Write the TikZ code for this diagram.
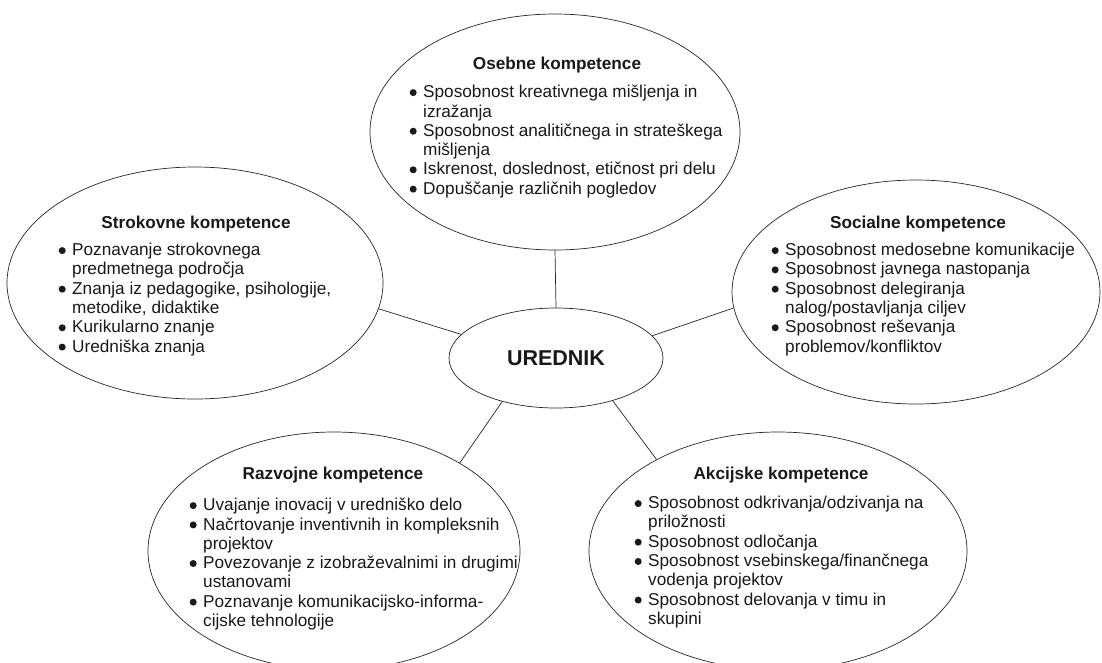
\documentclass[tikz,border=0pt]{standalone}
\usepackage{fontspec}
\setmainfont{Liberation Sans}
\usetikzlibrary{shapes.geometric}
\newcommand\bu{\makebox[13.5pt][l]{\raisebox{1.6pt}{\tikz[x=1cm,y=1cm]\fill[black!90] (0,0) circle (3.5pt);}}}
\newcommand\hg{\hspace*{13.5pt}}
\begin{document}
\begin{tikzpicture}[x=1pt,y=-1pt,
  oval/.style={ellipse, draw=black!85, line width=0.7pt, inner sep=0pt},
  ttl/.style={font=\fontsize{17.2}{19.3}\selectfont\bfseries, anchor=base, inner sep=0pt, text=black!90},
  lst/.style={font=\fontsize{17.2}{19.3}\selectfont, align=left, anchor=north west, inner sep=0pt, text=black!90},
  conn/.style={line width=0.7pt, draw=black!85}]
\useasboundingbox (0,0) rectangle (1102,662);
\clip (0,0) rectangle (1102,662);
\fill[white] (0,0) rectangle (1102,662);
% ellipses
\node[oval, minimum width=370pt, minimum height=236pt] (os) at (555,132) {};
\node[oval, minimum width=376pt, minimum height=232pt] (st) at (195,283) {};
\node[oval, minimum width=368pt, minimum height=224pt] (so) at (916,292) {};
\node[oval, minimum width=372pt, minimum height=238pt] (ra) at (334,551) {};
\node[oval, minimum width=378pt, minimum height=238pt] (ak) at (778,551) {};
\node[oval, minimum width=214pt, minimum height=100pt, font=\fontsize{21.5}{24}\selectfont\bfseries, text=black!90] (ur) at (556,358) {UREDNIK};
% connectors
\draw[conn] (ur.90) -- (os.270);
\draw[conn] (ur.166.5) -- (st.-8);
\draw[conn] (ur.13.3) -- (so.185.4);
\draw[conn] (ur.219.2) -- (ra.35.5);
\draw[conn] (ur.-37.7) -- (ak.143.4);
% titles
\node[ttl] (t1) at (557,69) {Osebne kompetence};
\node[ttl] (t2) at (196,228) {Strokovne kompetence};
\node[ttl] (t3) at (918,228) {Socialne kompetence};
\node[ttl] (t4) at (333,479) {Razvojne kompetence};
\node[ttl] (t5) at (781,479) {Akcijske kompetence};
% lists
\node[lst] (l1) at (409.5,85) {\bu Sposobnost kreativnega mišljenja in\\
\hg izražanja\\
\bu Sposobnost analitičnega in strateškega\\
\hg mišljenja\\
\bu Iskrenost, doslednost, etičnost pri delu\\
\bu Dopuščanje različnih pogledov};
\node[lst] (l2) at (58.5,243) {\bu Poznavanje strokovnega\\
\hg predmetnega področja\\
\bu Znanja iz pedagogike, psihologije,\\
\hg metodike, didaktike\\
\bu Kurikularno znanje\\
\bu Uredniška znanja};
\node[lst] (l3) at (771.5,243) {\bu Sposobnost medosebne komunikacije\\
\bu Sposobnost javnega nastopanja\\
\bu Sposobnost delegiranja\\
\hg nalog/postavljanja ciljev\\
\bu Sposobnost reševanja\\
\hg problemov/konfliktov};
\node[lst] (l4) at (189.5,498) {\bu Uvajanje inovacij v uredniško delo\\
\bu Načrtovanje inventivnih in kompleksnih\\
\hg projektov\\
\bu Povezovanje z izobraževalnimi in drugimi\\
\hg ustanovami\\
\bu Poznavanje komunikacijsko-informa-\\
\hg cijske tehnologije};
\node[lst] (l5) at (634.5,496) {\bu Sposobnost odkrivanja/odzivanja na\\
\hg priložnosti\\
\bu Sposobnost odločanja\\
\bu Sposobnost vsebinskega/finančnega\\
\hg vodenja projektov\\
\bu Sposobnost delovanja v timu in\\
\hg skupini};
\end{tikzpicture}
\end{document}
